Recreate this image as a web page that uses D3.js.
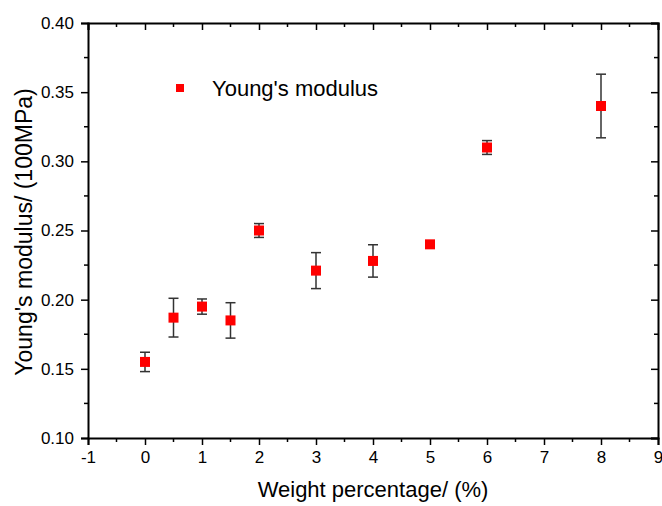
<!DOCTYPE html>
<html>
<head>
<meta charset="utf-8">
<script src="https://cdn.jsdelivr.net/npm/d3@7"></script>
<style>
  body { margin: 0; background: #fff; }
  svg text { font-family: "Liberation Sans", Arial, sans-serif; fill: #000; }
</style>
</head>
<body>
<div id="chart"></div>
<script>
// Data
const weights = [0, 0.5, 1, 1.5, 2, 3, 4, 5, 6, 8];
const modulus = [0.155, 0.187, 0.195, 0.185, 0.250, 0.221, 0.228, 0.240, 0.310, 0.340];
const errors  = [0.007, 0.014, 0.0055, 0.0128, 0.005, 0.013, 0.0117, 0.002, 0.005, 0.023];
const xTicks = [-1, 0, 1, 2, 3, 4, 5, 6, 7, 8, 9];
const yTicks = [0.10, 0.15, 0.20, 0.25, 0.30, 0.35, 0.40];

const width = 662, height = 506;
const margin = { left: 88, right: 4, top: 23, bottom: 68 };

const svg = d3.select("#chart").append("svg")
  .attr("width", width)
  .attr("height", height);

const x = d3.scaleLinear().domain([-1, 9]).range([margin.left, width - margin.right]);
const y = d3.scaleLinear().domain([0.10, 0.40]).range([height - margin.bottom, margin.top]);

const xMinor = d3.range(-0.5, 9, 1);
const yMinor = d3.range(0.125, 0.40, 0.05);

// bottom axis
const gx = svg.append("g")
  .attr("transform", `translate(0,${y(0.10)})`)
  .call(d3.axisBottom(x).tickValues(xTicks).tickFormat(d => String(d)).tickSize(7).tickPadding(6));
gx.append("g").selectAll("line").data(xMinor).join("line")
  .attr("x1", d => x(d)).attr("x2", d => x(d)).attr("y1", 0).attr("y2", 4)
  .attr("stroke", "#000").attr("stroke-width", 1.5);

// left axis
const gy = svg.append("g")
  .attr("transform", `translate(${x(-1)},0)`)
  .call(d3.axisLeft(y).tickValues(yTicks).tickFormat(d3.format(".2f")).tickSize(7).tickPadding(7));
gy.append("g").selectAll("line").data(yMinor).join("line")
  .attr("y1", d => y(d)).attr("y2", d => y(d)).attr("x1", 0).attr("x2", -4)
  .attr("stroke", "#000").attr("stroke-width", 1.5);

// top axis, ticks inside
const gt = svg.append("g")
  .attr("transform", `translate(0,${y(0.40)})`)
  .call(d3.axisTop(x).tickValues(xTicks).tickFormat("").tickSize(-7));
gt.append("g").selectAll("line").data(xMinor).join("line")
  .attr("x1", d => x(d)).attr("x2", d => x(d)).attr("y1", 0).attr("y2", 4)
  .attr("stroke", "#000").attr("stroke-width", 1.5);

// right axis, ticks inside
const gr = svg.append("g")
  .attr("transform", `translate(${x(9)},0)`)
  .call(d3.axisRight(y).tickValues(yTicks).tickFormat("").tickSize(-7));
gr.append("g").selectAll("line").data(yMinor).join("line")
  .attr("y1", d => y(d)).attr("y2", d => y(d)).attr("x1", 0).attr("x2", -4)
  .attr("stroke", "#000").attr("stroke-width", 1.5);

svg.selectAll(".domain").attr("stroke", "#000").attr("stroke-width", 2);
svg.selectAll(".tick line").attr("stroke", "#000").attr("stroke-width", 1.5);
svg.selectAll(".tick text").style("font-size", "17px");

// axis titles
svg.append("text")
  .attr("x", (x(-1) + x(9)) / 2)
  .attr("y", 497)
  .attr("text-anchor", "middle")
  .style("font-size", "22px")
  .text("Weight percentage/ (%)");

svg.append("text")
  .attr("transform", `translate(32,232) rotate(-90)`)
  .attr("text-anchor", "middle")
  .style("font-size", "23px")
  .text("Young's modulus/ (100MPa)");

const pts = weights.map((w, i) => ({ w, m: modulus[i], e: errors[i] }));

// error bars
const eb = svg.append("g").attr("stroke", "#333").attr("stroke-width", 1.5);
eb.selectAll(".v").data(pts).join("line")
  .attr("x1", d => x(d.w)).attr("x2", d => x(d.w))
  .attr("y1", d => y(d.m - d.e)).attr("y2", d => y(d.m + d.e));
eb.selectAll(".t").data(pts).join("line")
  .attr("x1", d => x(d.w) - 5).attr("x2", d => x(d.w) + 5)
  .attr("y1", d => y(d.m + d.e)).attr("y2", d => y(d.m + d.e));
eb.selectAll(".b").data(pts).join("line")
  .attr("x1", d => x(d.w) - 5).attr("x2", d => x(d.w) + 5)
  .attr("y1", d => y(d.m - d.e)).attr("y2", d => y(d.m - d.e));

// markers
const s = 10;
svg.append("g").selectAll("rect").data(pts).join("rect")
  .attr("x", d => x(d.w) - s / 2)
  .attr("y", d => y(d.m) - s / 2)
  .attr("width", s).attr("height", s)
  .attr("fill", "#ff0000");

// legend
svg.append("rect").attr("x", 176).attr("y", 84).attr("width", 8).attr("height", 8).attr("fill", "#ff0000");
svg.append("text").attr("x", 212).attr("y", 96).style("font-size", "22px").text("Young's modulus");
</script>
</body>
</html>
